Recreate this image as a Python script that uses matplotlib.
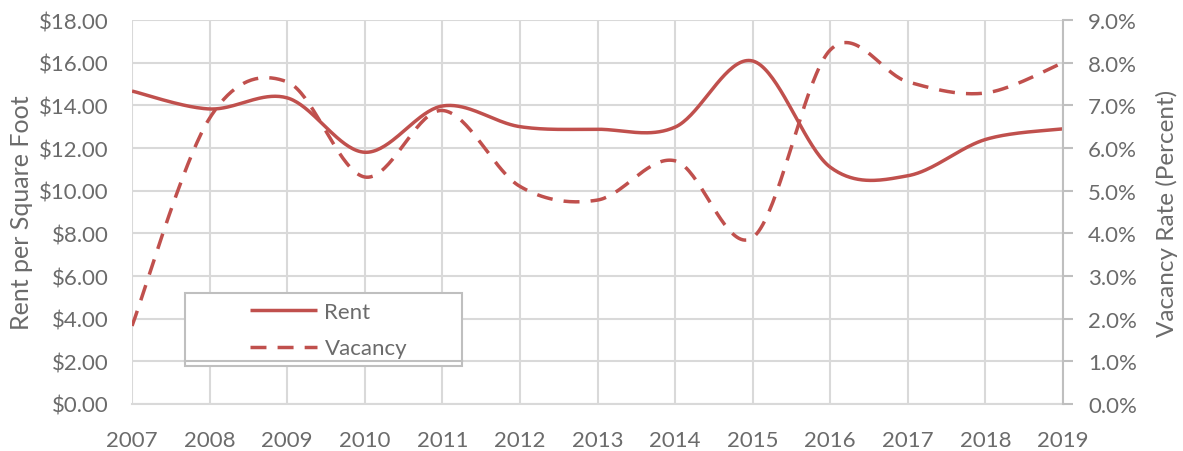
import numpy as np
import matplotlib
matplotlib.use("Agg")
import matplotlib.pyplot as plt
from matplotlib.patches import Rectangle
from matplotlib.lines import Line2D
from matplotlib.ticker import FuncFormatter, MultipleLocator

years = [2007, 2008, 2009, 2010, 2011, 2012, 2013, 2014, 2015, 2016, 2017, 2018, 2019]
rent = [14.67, 13.83, 14.35, 11.8, 13.97, 13.0, 12.88, 12.98, 16.08, 11.1, 10.7, 12.4, 12.9]
vacancy = [1.83, 6.7, 7.55, 5.32, 6.88, 5.1, 4.78, 5.7, 3.9, 8.3, 7.55, 7.29, 8.0]

RED = "#C0504D"
TEXT = "#6b6b6b"
GRID = "#d9d9d9"

plt.rcParams["font.family"] = ["Lato", "DejaVu Sans"]


def smooth(xs, ys, n=40):
    # Excel-style smoothed line: Bezier segments with Catmull-Rom control points
    p = np.column_stack([xs, ys]).astype(float)
    p = np.vstack([p[0], p, p[-1]])
    out = []
    t = np.linspace(0, 1, n)[:, None]
    for i in range(1, len(p) - 2):
        p0, p1, p2, p3 = p[i - 1], p[i], p[i + 1], p[i + 2]
        b1 = p1 + (p2 - p0) / 6
        b2 = p2 - (p3 - p1) / 6
        seg = ((1 - t) ** 3) * p1 + 3 * ((1 - t) ** 2) * t * b1 + 3 * (1 - t) * t ** 2 * b2 + t ** 3 * p2
        out.append(seg if i == 1 else seg[1:])
    out = np.vstack(out)
    return out[:, 0], out[:, 1]


fig = plt.figure(figsize=(11.83, 4.52), dpi=100)
ax = fig.add_axes([0.1116, 0.104, 0.787, 0.8495])
ax2 = ax.twinx()

rx, ry = smooth(years, rent)
vx, vy = smooth(years, vacancy)
l1, = ax.plot(rx, ry, color=RED, lw=2.5, solid_capstyle="butt")
l2, = ax2.plot(vx, vy, color=RED, lw=2.5, dashes=(4.6, 3.2), dash_capstyle="butt")

ax.set_xlim(2007, 2019)
ax.set_ylim(0, 18)
ax2.set_ylim(0, 9)
ax.set_xticks(years)
ax.yaxis.set_major_locator(MultipleLocator(2))
ax2.yaxis.set_major_locator(MultipleLocator(1))
ax.yaxis.set_major_formatter(FuncFormatter(lambda v, _: f"${v:.2f}"))
ax2.yaxis.set_major_formatter(FuncFormatter(lambda v, _: f"{v:.1f}%"))

ax.grid(True, color=GRID, lw=1.5)
ax.set_axisbelow(True)

for a in (ax, ax2):
    for s in a.spines.values():
        s.set_visible(False)
ax.spines["bottom"].set_visible(True)
ax.spines["bottom"].set_color(GRID)
ax.spines["bottom"].set_linewidth(1.5)
ax2.spines["right"].set_visible(True)
ax2.spines["right"].set_color("#bfbfbf")
ax2.spines["right"].set_linewidth(1.5)

ax.tick_params(axis="y", length=0, labelsize=16, labelcolor=TEXT, pad=17)
ax.tick_params(axis="x", length=0, labelsize=16, labelcolor=TEXT, pad=19)
ax2.tick_params(axis="y", length=7, width=1.5, color="#bfbfbf", labelsize=16, labelcolor=TEXT, pad=11)

ax.set_ylabel("Rent per Square Foot", fontsize=18, color=TEXT)
ax2.set_ylabel("Vacancy Rate (Percent)", fontsize=17.5, color=TEXT)
ax.yaxis.set_label_coords((33 - 132) / 931, 0.5)
ax2.yaxis.set_label_coords((1156 - 132) / 931, 0.5)

# legend frame drawn by hand (box with a second line near the bottom)
W, H = 1183, 452
frame = Rectangle((185 / W, 1 - 367 / H), 277 / W, 73 / H, transform=fig.transFigure,
                  facecolor="white", edgecolor="#bfbfbf", lw=1.5, zorder=5)
fig.add_artist(frame)
fig.add_artist(Line2D([185 / W, 462 / W], [1 - 362 / H] * 2, transform=fig.transFigure,
                      color="#bfbfbf", lw=1.5, zorder=6))

leg = fig.legend([l1, l2], ["Rent", "Vacancy"], loc="center left",
                 bbox_to_anchor=(250 / W, 1 - 331 / H), fontsize=16, labelcolor=TEXT,
                 frameon=False, borderpad=0, borderaxespad=0, handlelength=3.0,
                 handletextpad=0.35, labelspacing=0.75)
leg.set_zorder(7)

fig.savefig("out.png", dpi=100)
